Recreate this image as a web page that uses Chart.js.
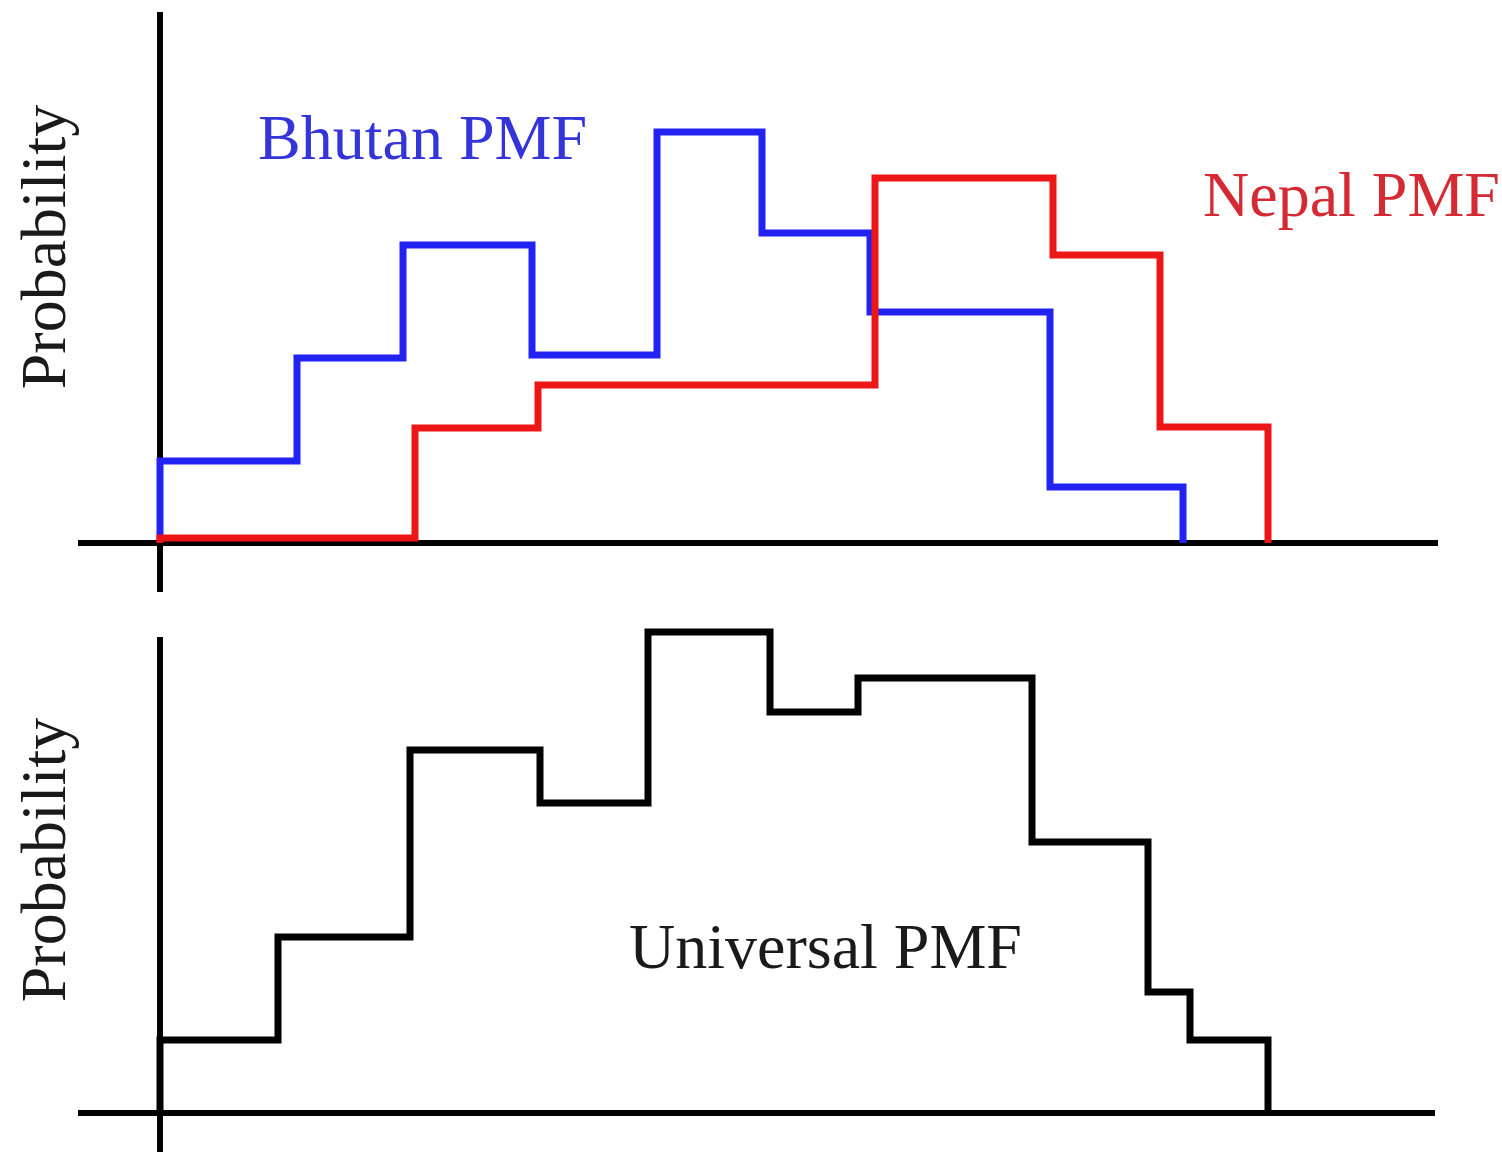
<!DOCTYPE html>
<html>
<head>
<meta charset="utf-8">
<script src="https://cdn.jsdelivr.net/npm/chart.js@4"></script>
<style>
  html, body { margin: 0; padding: 0; background: #ffffff; }
  canvas { display: block; }
</style>
</head>
<body>
<canvas id="pmfTop" width="1502" height="600"></canvas>
<canvas id="pmfBottom" width="1502" height="556"></canvas>
<script>
// Bin edges (outcome units) and the probability mass of each bin
const bhutanEdges = [0, 1.37, 2.43, 3.72, 4.97, 6.02, 7.10, 8.90, 10.23];
const bhutanProb  = [0.082, 0.185, 0.298, 0.188, 0.411, 0.310, 0.231, 0.056];

const nepalEdges = [0, 2.55, 3.78, 7.15, 8.93, 10.00, 11.08];
const nepalProb  = [0.005, 0.115, 0.158, 0.365, 0.288, 0.116];

const universalEdges = [0, 1.18, 2.50, 3.80, 4.88, 6.10, 6.98, 8.72, 9.88, 10.30, 11.08];
const universalProb  = [0.073, 0.176, 0.363, 0.310, 0.481, 0.401, 0.435, 0.271, 0.121, 0.073];

// Only the origin gets a line: it forms the crossing axes
const axisTicks = [0];

const SERIF = '"Liberation Serif", "Times New Roman", serif';

// Turn bins into the corner points of a step outline
function stepPoints(edges, probs) {
  const pts = [{ x: edges[0], y: 0 }];
  probs.forEach((p, i) => pts.push({ x: edges[i], y: p }));
  pts.push({ x: edges[edges.length - 1], y: 0 });
  return pts;
}

function stepDataset(label, edges, probs, color, order) {
  return {
    label,
    data: stepPoints(edges, probs),
    borderColor: color,
    borderWidth: 7,
    borderJoinStyle: 'miter',
    borderCapStyle: 'butt',
    pointRadius: 0,
    stepped: true,
    fill: false,
    clip: false,
    order
  };
}

function crossAxis(min, max) {
  return {
    type: 'linear',
    min, max,
    border: { display: false },
    grid: { color: '#000000', lineWidth: 6, drawTicks: false },
    ticks: { display: false },
    afterBuildTicks: scale => { scale.ticks = axisTicks.map(v => ({ value: v })); }
  };
}

// Free text: series names and rotated axis titles
const textLabels = {
  id: 'textLabels',
  afterDraw(chart, args, opts) {
    const ctx = chart.ctx;
    for (const t of opts.items) {
      ctx.save();
      ctx.font = t.font || ('64px ' + SERIF);
      ctx.fillStyle = t.color;
      ctx.translate(t.x, t.y);
      if (t.rotate) ctx.rotate(t.rotate);
      ctx.textAlign = t.align || 'left';
      ctx.textBaseline = t.baseline || 'alphabetic';
      ctx.fillText(t.text, 0, 0);
      ctx.restore();
    }
  }
};

function baseOptions(padding, xr, yr, items) {
  return {
    responsive: false,
    animation: false,
    devicePixelRatio: 1,
    layout: { padding },
    scales: { x: crossAxis(xr[0], xr[1]), y: crossAxis(yr[0], yr[1]) },
    plugins: {
      legend: { display: false },
      tooltip: { enabled: false },
      textLabels: { items }
    }
  };
}

new Chart(document.getElementById('pmfTop'), {
  type: 'line',
  data: {
    datasets: [
      stepDataset('Bhutan PMF', bhutanEdges, bhutanProb, '#2222f2', 1),
      stepDataset('Nepal PMF', nepalEdges, nepalProb, '#ec1616', 0)
    ]
  },
  options: baseOptions(
    { left: 78, right: 64, top: 12, bottom: 8 },
    [-0.82, 12.78], [-0.049, 0.531],
    [
      { text: 'Bhutan PMF', x: 258, y: 159, color: '#3434d8' },
      { text: 'Nepal PMF', x: 1203, y: 216, color: '#d42a33' },
      { text: 'Probability', x: 48, y: 247, color: '#1a1a1a', rotate: -Math.PI / 2, align: 'center', baseline: 'middle' }
    ]
  ),
  plugins: [textLabels]
});

new Chart(document.getElementById('pmfBottom'), {
  type: 'line',
  data: {
    datasets: [
      stepDataset('Universal PMF', universalEdges, universalProb, '#000000', 0)
    ]
  },
  options: baseOptions(
    { left: 78, right: 67, top: 37, bottom: 4 },
    [-0.82, 12.75], [-0.039, 0.476],
    [
      { text: 'Universal PMF', x: 629, y: 368, color: '#1a1a1a' },
      { text: 'Probability', x: 48, y: 260, color: '#1a1a1a', rotate: -Math.PI / 2, align: 'center', baseline: 'middle' }
    ]
  ),
  plugins: [textLabels]
});
</script>
</body>
</html>
